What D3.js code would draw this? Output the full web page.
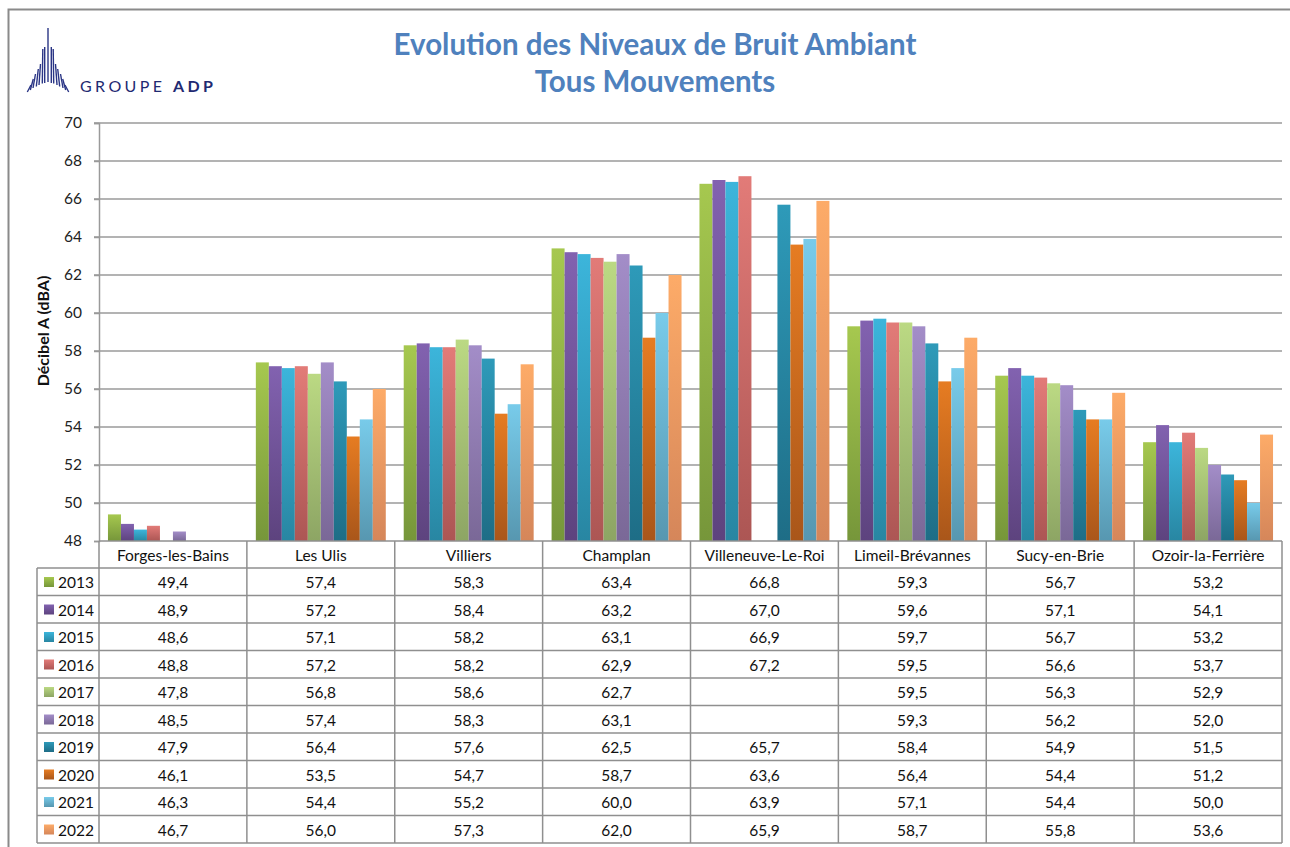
<!DOCTYPE html>
<html>
<head>
<meta charset="utf-8">
<script src="https://cdn.jsdelivr.net/npm/d3@7"></script>
<style>
  body { margin: 0; background: #fff; }
  svg { font-family: Lato, "Noto Sans", sans-serif; }
</style>
</head>
<body>
<div id="chart"></div>
<script>
// Data
const sites = ["Forges-les-Bains", "Les Ulis", "Villiers", "Champlan", "Villeneuve-Le-Roi",
  "Limeil-Brévannes", "Sucy-en-Brie", "Ozoir-la-Ferrière"];
const years = ["2013", "2014", "2015", "2016", "2017", "2018", "2019", "2020", "2021", "2022"];

const v2013 = [49.4, 57.4, 58.3, 63.4, 66.8, 59.3, 56.7, 53.2];
const v2014 = [48.9, 57.2, 58.4, 63.2, 67.0, 59.6, 57.1, 54.1];
const v2015 = [48.6, 57.1, 58.2, 63.1, 66.9, 59.7, 56.7, 53.2];
const v2016 = [48.8, 57.2, 58.2, 62.9, 67.2, 59.5, 56.6, 53.7];
const v2017 = [47.8, 56.8, 58.6, 62.7, null, 59.5, 56.3, 52.9];
const v2018 = [48.5, 57.4, 58.3, 63.1, null, 59.3, 56.2, 52.0];
const v2019 = [47.9, 56.4, 57.6, 62.5, 65.7, 58.4, 54.9, 51.5];
const v2020 = [46.1, 53.5, 54.7, 58.7, 63.6, 56.4, 54.4, 51.2];
const v2021 = [46.3, 54.4, 55.2, 60.0, 63.9, 57.1, 54.4, 50.0];
const v2022 = [46.7, 56.0, 57.3, 62.0, 65.9, 58.7, 55.8, 53.6];
const series = [v2013, v2014, v2015, v2016, v2017, v2018, v2019, v2020, v2021, v2022];

const yTicks = [48, 50, 52, 54, 56, 58, 60, 62, 64, 66, 68, 70];

// bar colours (top, bottom of gradient)
const colors = [
  ["#a6c84f", "#76963a"], ["#8262b0", "#5d437e"], ["#3cb5db", "#2886a2"],
  ["#e27b78", "#ac5654"], ["#bbd983", "#8da564"], ["#a38dc8", "#7a6897"],
  ["#2e9ab9", "#1e6d86"], ["#e67c22", "#a9561a"], ["#78cbea", "#5797b0"],
  ["#fdab68", "#d5865a"]
];

const width = 1290, height = 847;
const plot = { left: 99, right: 1282, top: 123, bottom: 541 };
const tableLeft = 37, headerH = 27, rowH = 27.5;
const fs = 15.5;

const svg = d3.select("#chart").append("svg")
  .attr("width", width).attr("height", height);

// outer frame
svg.append("path")
  .attr("d", `M8.5,${height} V9.5 H${width}`)
  .attr("fill", "none").attr("stroke", "#8a8a8a").attr("stroke-width", 2);

// gradients
const defs = svg.append("defs");
colors.forEach((c, i) => {
  const g = defs.append("linearGradient").attr("id", "g" + i)
    .attr("x1", 0).attr("y1", 0).attr("x2", 0).attr("y2", 1);
  g.append("stop").attr("offset", "0%").attr("stop-color", c[0]);
  g.append("stop").attr("offset", "100%").attr("stop-color", c[1]);
});

// logo: fan of lines + wordmark (shape only, by distance from centre line)
const logo = svg.append("g");
const fanDx = [0, 3.3, 5.7, 9, 11.7, 15, 17.7, 20.7];
const fanBot = [82, 83, 83.5, 85, 86.5, 88, 90, 92];
const fanTop = [28, 47, 49, 64, 69, 74, 79, 85];
const fanTilt = [0, 0, 0.5, 1.5, 2, 2.5, 3, 3.7];
d3.range(-7, 8).forEach(k => {
  const i = Math.abs(k), s = Math.sign(k);
  logo.append("line")
    .attr("x1", 48 + s * fanDx[i]).attr("y1", fanBot[i])
    .attr("x2", 48 + s * (fanDx[i] - fanTilt[i])).attr("y2", fanTop[i])
    .attr("stroke", "#2a3585").attr("stroke-width", 1.4);
});
logo.append("text").attr("x", 80).attr("y", 92)
  .attr("font-size", 16).attr("letter-spacing", 3.4).attr("fill", "#1f2a72")
  .html('GROUPE <tspan font-weight="bold">ADP</tspan>');

// title
const title = svg.append("text").attr("text-anchor", "middle")
  .attr("fill", "#4f81bd").attr("font-weight", "bold").attr("font-size", 29.5);
title.append("tspan").attr("x", 655).attr("y", 55).text("Evolution des Niveaux de Bruit Ambiant");
title.append("tspan").attr("x", 655).attr("y", 92).text("Tous Mouvements");

// scales
const y = d3.scaleLinear().domain([48, 70]).range([plot.bottom, plot.top]);
const x0 = d3.scaleBand().domain(sites).range([plot.left, plot.right]);
const x1 = d3.scaleBand().domain(years).range([0, x0.bandwidth()]).paddingOuter(0.69);

// gridlines
svg.append("g").selectAll("line").data(yTicks.slice(1)).join("line")
  .attr("x1", plot.left - 5).attr("x2", plot.right)
  .attr("y1", d => y(d)).attr("y2", d => y(d))
  .attr("stroke", "#9a9a9a").attr("stroke-width", 1.5);

// y axis
const yAxis = svg.append("g").attr("transform", `translate(${plot.left},0)`)
  .call(d3.axisLeft(y).tickValues(yTicks).tickSize(5).tickPadding(12));
yAxis.select(".domain").attr("stroke", "#9a9a9a").attr("stroke-width", 1.5);
yAxis.selectAll(".tick line").attr("stroke", "#9a9a9a").attr("stroke-width", 1.5);
yAxis.selectAll("text").attr("font-size", 15.5).attr("fill", "#222")
  .attr("font-family", "Lato, sans-serif");

svg.append("text")
  .attr("transform", `translate(49,331) rotate(-90)`)
  .attr("text-anchor", "middle").attr("font-size", 16).attr("font-weight", "bold")
  .attr("fill", "#111").text("Décibel A (dBA)");

// bars
defs.append("clipPath").attr("id", "plotclip").append("rect")
  .attr("x", plot.left).attr("y", plot.top).attr("width", plot.right - plot.left)
  .attr("height", plot.bottom - plot.top);

const barG = svg.append("g").attr("clip-path", "url(#plotclip)");
series.forEach((vals, i) => {
  barG.append("g").selectAll("rect")
    .data(vals.map((v, j) => ({ site: sites[j], v })).filter(d => d.v != null && d.v > 48))
    .join("rect")
    .attr("x", d => x0(d.site) + x1(years[i]))
    .attr("width", x1.bandwidth())
    .attr("y", d => y(d.v))
    .attr("height", d => y(48) - y(d.v))
    .attr("fill", `url(#g${i})`);
});

// data table
const fmt = v => v == null ? "" : d3.format(".1f")(v).replace(".", ",");
const tbl = svg.append("g");
const rowsTop = plot.bottom + headerH;
const tableBottom = rowsTop + years.length * rowH;
const lineStyle = sel => sel.attr("stroke", "#8f8f8f").attr("stroke-width", 1.5);

// horizontal lines
tbl.append("line").attr("x1", plot.left).attr("x2", plot.right)
  .attr("y1", plot.bottom).attr("y2", plot.bottom).call(lineStyle);
tbl.selectAll(".hl").data(d3.range(years.length + 1)).join("line")
  .attr("x1", tableLeft).attr("x2", plot.right)
  .attr("y1", i => rowsTop + i * rowH).attr("y2", i => rowsTop + i * rowH)
  .call(lineStyle);
// vertical lines
tbl.selectAll(".vl").data(sites.map(s => x0(s)).concat([plot.right])).join("line")
  .attr("x1", d => d).attr("x2", d => d)
  .attr("y1", plot.bottom).attr("y2", tableBottom).call(lineStyle);
tbl.append("line").attr("x1", tableLeft).attr("x2", tableLeft)
  .attr("y1", rowsTop).attr("y2", tableBottom).call(lineStyle);

// header labels
tbl.selectAll(".cat").data(sites).join("text")
  .attr("x", d => x0(d) + x0.bandwidth() / 2).attr("y", plot.bottom + 19.5)
  .attr("text-anchor", "middle").attr("font-size", fs).attr("fill", "#111")
  .text(d => d);

// legend column and values
years.forEach((yr, i) => {
  const ty = rowsTop + i * rowH;
  tbl.append("rect").attr("x", 44).attr("y", ty + 9).attr("width", 10).attr("height", 10)
    .attr("fill", `url(#g${i})`);
  tbl.append("text").attr("x", 58).attr("y", ty + 20)
    .attr("font-size", fs).attr("fill", "#111").text(yr);
  tbl.append("g").selectAll("text").data(series[i]).join("text")
    .attr("x", (d, j) => x0(sites[j]) + x0.bandwidth() / 2).attr("y", ty + 20)
    .attr("text-anchor", "middle").attr("font-size", fs).attr("fill", "#111")
    .text(d => fmt(d));
});
</script>
</body>
</html>
